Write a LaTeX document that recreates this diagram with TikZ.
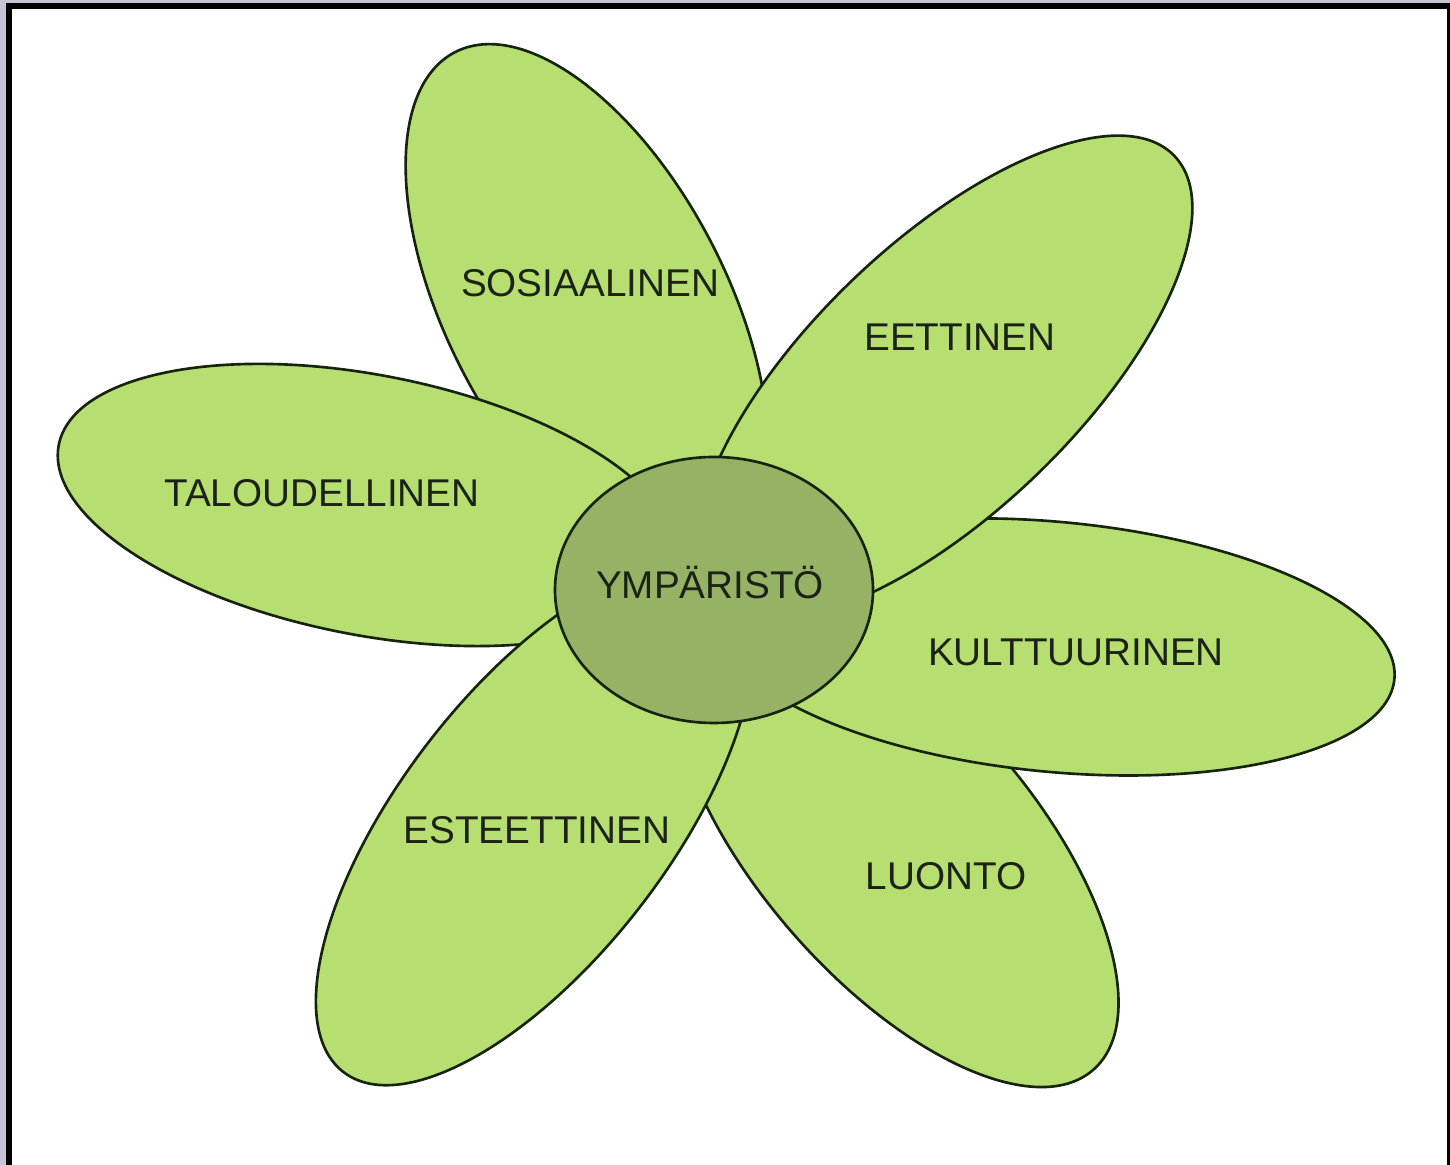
\documentclass[tikz,border=0pt]{standalone}
\usepackage{fontspec}
\setmainfont{Liberation Sans}
\definecolor{petalfill}{RGB}{182,222,112}
\definecolor{corefill}{RGB}{150,178,100}
\definecolor{outline}{RGB}{22,36,14}
\definecolor{framepurple}{RGB}{201,194,212}
\definecolor{labeltext}{RGB}{28,34,22}
\tikzset{
  petal/.style={fill=petalfill, draw=outline, line width=0.75pt},
  core/.style={fill=corefill, draw=outline, line width=0.75pt},
  lab/.style={font=\fontsize{11}{13}\selectfont, text=labeltext, inner sep=0pt},
}
\begin{document}
\begin{tikzpicture}[x=0.01cm, y=-0.01cm]
\useasboundingbox (0,0) rectangle (1450,1165);
\fill[framepurple] (0,0) rectangle (1450,1165);
\fill[black] (6,3) rectangle (1450,1165);
\fill[white] (12,9) rectangle (1447,1165);
% petal centres
\coordinate (csos) at (587,307);
\coordinate (cluo) at (895,842);
\coordinate (ckul) at (1055,647);
\coordinate (ceet) at (944,378);
\coordinate (cest) at (534.6,824.2);
\coordinate (ctal) at (368,505);
\coordinate (ccore) at (714,590);
% petals (back to front)
\draw[petal, rotate around={117.4:(csos)}] (csos) ellipse [x radius=287, y radius=140];
\draw[petal, rotate around={-49:(cluo)}] (cluo) ellipse [x radius=302, y radius=137];
\draw[petal, rotate around={-5.4:(ckul)}] (ckul) ellipse [x radius=341, y radius=125];
\draw[petal, rotate around={44:(ceet)}] (ceet) ellipse [x radius=320, y radius=134];
\draw[petal, rotate around={-11:(ctal)}] (ctal) ellipse [x radius=315, y radius=130];
\draw[petal, rotate around={52.35:(cest)}] (cest) ellipse [x radius=313, y radius=134];
% centre
\draw[core] (ccore) ellipse [x radius=159, y radius=133];
% labels
\node[lab] (tsos) at (590,283) {SOSIAALINEN};
\node[lab] (teet) at (960,337) {EETTINEN};
\node[lab] (ttal) at (322,493) {TALOUDELLINEN};
\node[lab] (tymp) at (710,583) {YMPÄRISTÖ};
\node[lab] (tkul) at (1076,652) {KULTTUURINEN};
\node[lab] (test) at (537,830) {ESTEETTINEN};
\node[lab] (tluo) at (946,876) {LUONTO};
\end{tikzpicture}
\end{document}
